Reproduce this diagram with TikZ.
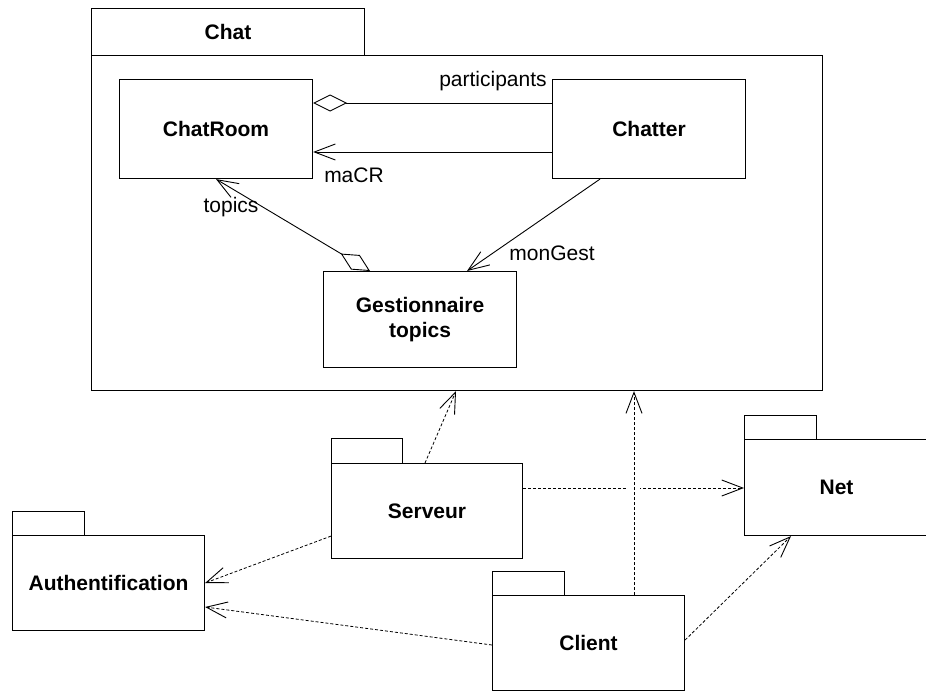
\documentclass[tikz,border=0pt]{standalone}
\usepackage{fontspec}
\setmainfont{Liberation Sans}
\usetikzlibrary{arrows.meta,calc}
\begin{document}
\begin{tikzpicture}[x=1pt,y=-1pt,
  box/.style={draw,line width=1.1pt,rectangle,inner sep=0pt,anchor=north west,
    font=\fontsize{21}{25}\selectfont\bfseries,align=center},
  lbl/.style={font=\fontsize{21}{25}\selectfont,inner sep=0pt},
  opentip/.style={-{Straight Barb[length=21pt,width=16pt,line width=0.9pt]}},
  assoc/.style={line width=0.9pt,opentip},
  aggr/.style={line width=0.9pt,{Diamond[open,fill=white,length=34pt,width=17pt,line width=0.9pt]}-},
  aggrnav/.style={line width=0.9pt,{Diamond[open,fill=white,length=34pt,width=17pt,line width=0.9pt]}-{Straight Barb[length=21pt,width=16pt,line width=0.9pt]}},
  dep/.style={line width=0.8pt,dash pattern=on 3pt off 2pt,opentip}
]
\useasboundingbox[fill=white] (0,0) rectangle (926,693);

% Chat package
\node[box,minimum width=273pt,minimum height=47pt] (chatT) at (91,8) {Chat};
\node[box,minimum width=731pt,minimum height=335pt] (chatB) at (91,55) {};
\node[box,minimum width=193pt,minimum height=99pt] (chatroom) at (119,79) {ChatRoom};
\node[box,minimum width=193pt,minimum height=99pt] (chatter) at (552,79) {Chatter};
\node[box,minimum width=193pt,minimum height=96pt] (gest) at (323,271) {Gestionnaire\\topics};

% other packages
\node[box,minimum width=71pt,minimum height=25pt] (serveurT) at (331,438) {};
\node[box,minimum width=191pt,minimum height=95pt] (serveurB) at (331,463) {Serveur};
\node[box,minimum width=72pt,minimum height=24pt] (netT) at (744,415) {};
\node[box,minimum width=184pt,minimum height=96pt] (netB) at (744,439) {Net};
\node[box,minimum width=72pt,minimum height=24pt] (authT) at (12,511) {};
\node[box,minimum width=192pt,minimum height=95pt] (authB) at (12,535) {Authentification};
\node[box,minimum width=72pt,minimum height=24pt] (clientT) at (492,571) {};
\node[box,minimum width=192pt,minimum height=95pt] (clientB) at (492,595) {Client};

% associations inside Chat
\draw[aggr] ($(chatroom.north east)+(0,24)$) -- ($(chatter.north west)+(0,24)$);
\draw[assoc] ($(chatter.north west)+(0,73)$) -- ($(chatroom.north east)+(0,73)$);
\draw[aggrnav] ($(gest.north west)+(47,0)$) -- ($(chatroom.south west)+(97,0)$);
\draw[assoc] ($(chatter.south west)+(48,0)$) -- ($(gest.north west)+(144,0)$);

\node[lbl] (lpart) at (493,81) {participants};
\node[lbl] (lmacr) at (354,175) {maCR};
\node[lbl] (ltopics) at (231,207) {topics};
\node[lbl] (lmongest) at (552,253) {monGest};

% dependencies
\draw[dep] ($(serveurB.north west)+(94,0)$) -- ($(chatB.south west)+(365,0)$);
\draw[dep] ($(serveurB.north east)+(0,25)$) -- ($(netB.north west)+(0,49)$);
\fill[white] (628,484) rectangle (640,492);
\draw[dep] ($(clientB.north west)+(142,0)$) -- ($(chatB.south west)+(543,0)$);
\draw[dep] ($(serveurB.south west)+(0,-23)$) -- ($(authB.north east)+(0,48)$);
\draw[dep] ($(clientB.north west)+(0,50)$) -- ($(authB.north east)+(0,72)$);
\draw[dep] ($(clientB.north east)+(0,45)$) -- ($(netB.south west)+(47,0)$);
\end{tikzpicture}
\end{document}
